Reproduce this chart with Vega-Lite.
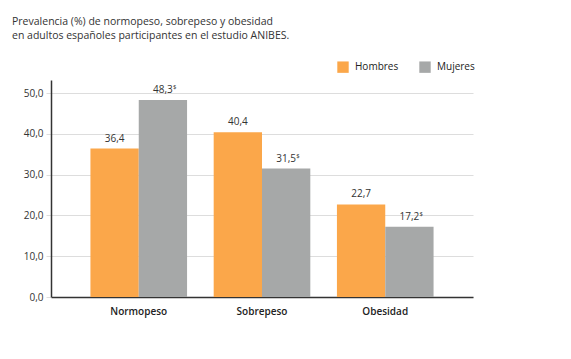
{
  "$schema": "https://vega.github.io/schema/vega-lite/v6.json",
  "width": 422,
  "height": 217,
  "autosize": "none",
  "padding": {"left": 51, "top": 80, "right": 98, "bottom": 62},
  "background": "white",
  "title": {
    "text": ["Prevalencia (%) de normopeso, sobrepeso y obesidad", "en adultos españoles participantes en el estudio ANIBES."],
    "anchor": "start",
    "frame": "group",
    "dx": -39,
    "offset": 20,
    "font": "Open Sans",
    "fontSize": 10.5,
    "fontWeight": "normal",
    "color": "#333333",
    "lineHeight": 14
  },
  "data": {
    "values": [
      {"categoria": "Normopeso", "sexo": "Hombres", "valor": 36.4, "sup": ""},
      {"categoria": "Normopeso", "sexo": "Mujeres", "valor": 48.3, "sup": "$"},
      {"categoria": "Sobrepeso", "sexo": "Hombres", "valor": 40.4, "sup": ""},
      {"categoria": "Sobrepeso", "sexo": "Mujeres", "valor": 31.5, "sup": "$"},
      {"categoria": "Obesidad", "sexo": "Hombres", "valor": 22.7, "sup": ""},
      {"categoria": "Obesidad", "sexo": "Mujeres", "valor": 17.2, "sup": "$"}
    ]
  },
  "transform": [
    {"calculate": "replace(format(datum.valor, '.1f'), '.', ',')", "as": "etiqueta"}
  ],
  "encoding": {
    "x": {
      "field": "categoria",
      "type": "nominal",
      "sort": ["Normopeso", "Sobrepeso", "Obesidad"],
      "scale": {"paddingInner": 0.216, "paddingOuter": 0.32},
      "axis": {
        "title": null,
        "labelAngle": 0,
        "ticks": false,
        "domainColor": "#333333",
        "domainWidth": 1.5,
        "labelFont": "Open Sans",
        "labelFontWeight": 600,
        "labelFontSize": 10,
        "labelColor": "#222222",
        "labelPadding": 9
      }
    },
    "xOffset": {"field": "sexo", "type": "nominal", "sort": ["Hombres", "Mujeres"]},
    "y": {
      "field": "valor",
      "type": "quantitative",
      "scale": {"domain": [0, 53.2], "nice": false},
      "axis": {
        "title": null,
        "values": [0, 10, 20, 30, 40, 50],
        "labelExpr": "replace(format(datum.value, '.1f'), '.', ',')",
        "domainColor": "#333333",
        "domainWidth": 1.5,
        "gridColor": "#dddddd",
        "tickColor": "#dddddd",
        "tickSize": 5,
        "labelFont": "Open Sans",
        "labelFontSize": 10,
        "labelColor": "#333333",
        "labelPadding": 3
      }
    }
  },
  "layer": [
    {
      "mark": {"type": "bar"},
      "encoding": {
        "color": {
          "field": "sexo",
          "type": "nominal",
          "sort": ["Hombres", "Mujeres"],
          "scale": {"domain": ["Hombres", "Mujeres"], "range": ["#FBA74A", "#A6A8A8"]},
          "legend": {
            "title": null,
            "orient": "none",
            "legendX": 286,
            "legendY": -19,
            "direction": "horizontal",
            "symbolType": "square",
            "symbolSize": 130,
            "symbolStrokeWidth": 0,
            "symbolOpacity": 1,
            "labelFont": "Open Sans",
            "labelFontSize": 10,
            "labelColor": "#222222",
            "labelOffset": 6,
            "columnPadding": 20
          }
        }
      }
    },
    {
      "mark": {"type": "text", "baseline": "bottom", "dy": -5, "font": "Open Sans", "fontSize": 10, "color": "#333333"},
      "encoding": {"text": {"field": "etiqueta"}}
    },
    {
      "mark": {"type": "text", "baseline": "bottom", "align": "left", "dx": 10, "dy": -10, "font": "Open Sans", "fontSize": 6, "color": "#333333"},
      "encoding": {"text": {"field": "sup"}}
    }
  ],
  "config": {
    "view": {"stroke": null},
    "bar": {"binSpacing": 0}
  }
}
